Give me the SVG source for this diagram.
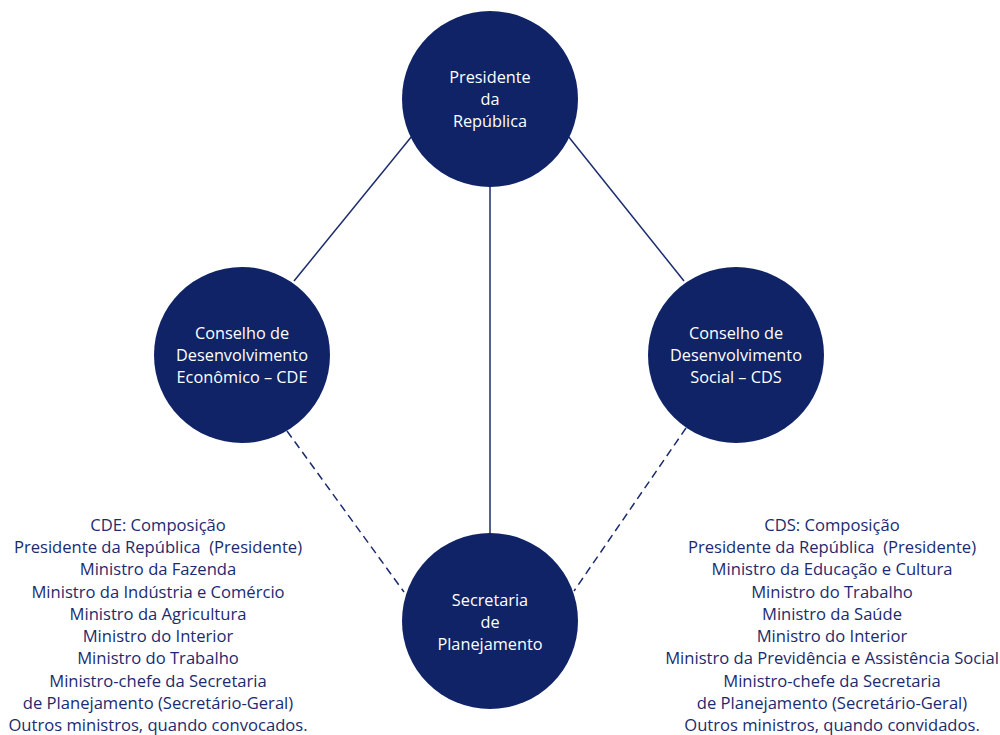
<svg xmlns="http://www.w3.org/2000/svg" width="1000" height="735" viewBox="0 0 1000 735">
<style>
.node{fill:#0f2366}
.nt{font-family:"Open Sans",Lato,sans-serif;font-size:16.3px;fill:#ffffff;text-anchor:middle}
.lt{font-family:"Open Sans",Lato,sans-serif;font-size:16.6px;fill:#1b2b6e;text-anchor:middle;white-space:pre}
.edge{stroke:#1b2b6e;stroke-width:1.5;fill:none}
.dash{stroke-dasharray:8 5}
</style>
<rect width="1000" height="735" fill="#ffffff"/>
<g id="connectors">
<line class="edge" x1="412" y1="136" x2="294" y2="281"/>
<line class="edge" x1="568" y1="136" x2="684" y2="281"/>
<line class="edge" x1="490" y1="187" x2="490" y2="534"/>
<line class="edge dash" x1="287" y1="431" x2="404" y2="592"/>
<line class="edge dash" x1="686" y1="428" x2="574" y2="591"/>
</g>
<g id="presidente">
<circle class="node" cx="490" cy="99" r="88"/>
<text class="nt" x="490" y="83">Presidente</text>
<text class="nt" x="490" y="105">da</text>
<text class="nt" x="490" y="127">República</text>
</g>
<g id="cde">
<circle class="node" cx="242" cy="355" r="88"/>
<text class="nt" x="242" y="339">Conselho de</text>
<text class="nt" x="242" y="361">Desenvolvimento</text>
<text class="nt" x="242" y="383">Econômico – CDE</text>
</g>
<g id="cds">
<circle class="node" cx="736" cy="355" r="88"/>
<text class="nt" x="736" y="339">Conselho de</text>
<text class="nt" x="736" y="361">Desenvolvimento</text>
<text class="nt" x="736" y="383">Social – CDS</text>
</g>
<g id="seplan">
<circle class="node" cx="490" cy="621" r="88"/>
<text class="nt" x="490" y="606">Secretaria</text>
<text class="nt" x="490" y="628">de</text>
<text class="nt" x="490" y="650">Planejamento</text>
</g>
<g id="cde-composicao">
<text class="lt" x="158" y="531">CDE: Composição</text>
<text class="lt" x="158" y="553">Presidente da República  (Presidente)</text>
<text class="lt" x="158" y="575">Ministro da Fazenda</text>
<text class="lt" x="158" y="598">Ministro da Indústria e Comércio</text>
<text class="lt" x="158" y="620">Ministro da Agricultura</text>
<text class="lt" x="158" y="642">Ministro do Interior</text>
<text class="lt" x="158" y="664">Ministro do Trabalho</text>
<text class="lt" x="158" y="687">Ministro-chefe da Secretaria</text>
<text class="lt" x="158" y="709">de Planejamento (Secretário-Geral)</text>
<text class="lt" x="158" y="731">Outros ministros, quando convocados.</text>
</g>
<g id="cds-composicao">
<text class="lt" x="832" y="531">CDS: Composição</text>
<text class="lt" x="832" y="553">Presidente da República  (Presidente)</text>
<text class="lt" x="832" y="575">Ministro da Educação e Cultura</text>
<text class="lt" x="832" y="598">Ministro do Trabalho</text>
<text class="lt" x="832" y="620">Ministro da Saúde</text>
<text class="lt" x="832" y="642">Ministro do Interior</text>
<text class="lt" x="832" y="664">Ministro da Previdência e Assistência Social</text>
<text class="lt" x="832" y="687">Ministro-chefe da Secretaria</text>
<text class="lt" x="832" y="709">de Planejamento (Secretário-Geral)</text>
<text class="lt" x="832" y="731">Outros ministros, quando convidados.</text>
</g>
</svg>
